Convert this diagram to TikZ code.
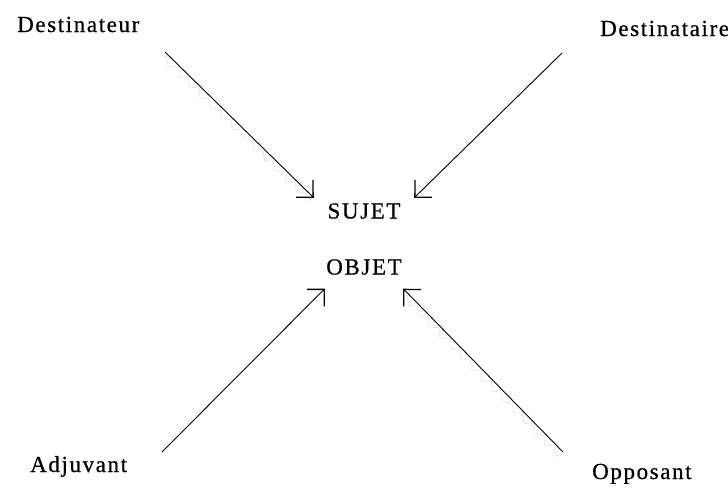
\documentclass[tikz,border=0pt]{standalone}
\usepackage{fontspec}
\setmainfont[LetterSpace=7,FakeBold=0.6]{Liberation Serif}
\usetikzlibrary{arrows.meta,decorations.pathmorphing}
\begin{document}
\begin{tikzpicture}[x=1pt,y=-1pt,
  lbl/.style={inner sep=0pt,font=\fontsize{23}{27}\selectfont},
  role/.style={inner sep=0pt,font=\fontsize{23}{27}\selectfont},
  arr/.style={line width=0.9pt,
    -{Straight Barb[length=12pt,width=24pt,line width=1.3pt]}},
  ghost/.style={draw=black!9,line width=0.8pt,
    decorate,decoration={zigzag,segment length=15pt,amplitude=3pt}}]
  \useasboundingbox (0,0) rectangle (728,488);
  % actants around the centre
  \node[lbl,anchor=base west] (dst)  at (17,32)  {Destinateur};
  \node[lbl,anchor=base west] (dsta) at (600,36) {Destinataire};
  \node[lbl,anchor=base west] (adj)  at (30,472) {Adjuvant};
  \node[lbl,anchor=base west] (opp)  at (592,479) {Opposant};
  % subject and object in the middle
  \node[role,minimum width=100pt,minimum height=26pt] (suj) at (364,211) {SUJET};
  \node[role,minimum width=78pt,minimum height=43pt] (obj) at (364,267) {OBJET};
  % arrow tails
  \coordinate (s1) at (165,52);
  \coordinate (s2) at (562,53);
  \coordinate (s3) at (162,452);
  \coordinate (s4) at (563,452);
  % faint shading beside two of the arrows
  \path[ghost] ([shift={(-3,4)}]s1) -- ([shift={(-3,4)}]suj.north west);
  \path[ghost] ([shift={(-3,4)}]s4) -- ([shift={(-3,4)}]obj.south east);
  \draw[arr] (s1) -- (suj.north west);
  \draw[arr] (s2) -- (suj.north east);
  \draw[arr] (s3) -- (obj.south west);
  \draw[arr] (s4) -- (obj.south east);
\end{tikzpicture}
\end{document}
